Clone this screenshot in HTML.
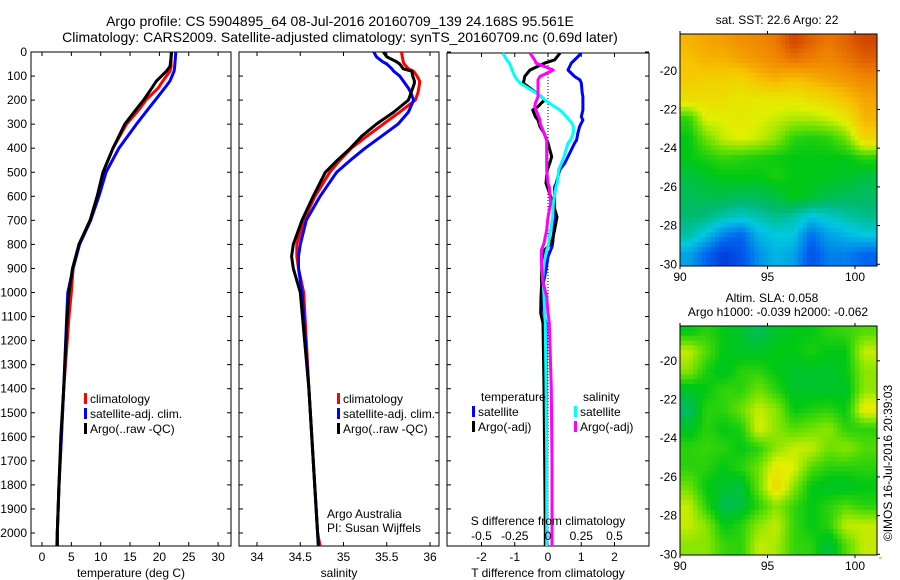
<!DOCTYPE html>
<html><head><meta charset="utf-8"><style>
html,body{margin:0;padding:0;background:#fff}
svg{display:block;font-family:"Liberation Sans",sans-serif}
</style></head><body>
<svg id="fig" width="900" height="580" viewBox="0 0 900 580" xmlns="http://www.w3.org/2000/svg">
<text x="340" y="26" font-size="14" text-anchor="middle">Argo profile: CS 5904895_64 08-Jul-2016 20160709_139 24.168S 95.561E</text>
<text x="340" y="42" font-size="14" text-anchor="middle">Climatology: CARS2009. Satellite-adjusted climatology: synTS_20160709.nc (0.69d later)</text>
<g id="p1"></g>
<g id="p2"></g>
<g id="p3"></g>
<g id="m1"></g>
<g id="m2"></g>
<text x="0" y="0" font-size="12" text-anchor="middle" transform="translate(892,463) rotate(-90)">©IMOS 16-Jul-2016 20:39:03</text>
</svg>
<script>
// ---- profile data ----
const tDepth = [0,60,80,120,150,200,240,300,400,500,600,700,800,900,1000,1100,1400,1600,1800,2000,2054];
const tClim  = [22.0,22.0,21.8,20.6,19.8,17.7,16.5,14.4,12.1,10.4,9.4,8.2,6.3,5.3,5.0,4.6,3.7,3.3,2.9,2.6,2.5];
const tSat   = [22.8,22.6,22.5,21.8,20.9,19.3,18.0,16.1,13.1,10.9,9.7,8.3,6.4,5.3,4.4,4.2,3.7,3.3,2.9,2.6,2.6];
const tArgo  = [22.1,21.8,21.2,19.5,18.7,17.3,16.0,14.1,12.1,10.4,9.4,8.2,6.3,5.2,4.6,4.3,3.7,3.2,2.9,2.6,2.6];
const sDepth = [0,20,40,50,70,80,100,120,130,150,170,200,250,300,350,400,450,500,600,700,800,850,900,1000,1400,2000,2054];
const sClim  = [35.67,35.68,35.69,35.70,35.75,35.81,35.85,35.88,35.88,35.87,35.86,35.83,35.65,35.46,35.27,35.09,34.96,34.84,34.67,34.54,34.46,34.46,34.48,34.54,34.60,34.70,34.73];
const sSat   = [35.35,35.38,35.45,35.50,35.56,35.58,35.65,35.69,35.71,35.75,35.78,35.81,35.75,35.63,35.44,35.25,35.08,34.92,34.73,34.57,34.50,34.48,34.48,34.52,34.60,34.70,34.71];
const sArgo  = [35.46,35.50,35.61,35.65,35.69,35.79,35.80,35.82,35.82,35.80,35.78,35.75,35.58,35.38,35.21,35.08,34.93,34.79,34.65,34.52,34.42,34.40,34.42,34.50,34.60,34.70,34.71];
const dDepth = [5,33,46,75,102,116,129,170,186,200,212,227,241,269,283,296,310,337,366,379,435,463,491,545,561,628,686,740,768,795,810,823,851,878,906,948,962,1018,1086,1127,1400,1700,2000,2054];
const dTsat  = [1.0,0.8,0.7,0.6,0.8,0.96,1.0,1.03,1.05,1.05,1.05,1.05,1.05,1.0,1.05,1.0,0.95,0.9,0.86,0.8,0.6,0.5,0.35,0.25,0.2,0.2,0.2,0.18,0.16,0.14,0.12,0.08,0.0,-0.03,-0.06,-0.12,-0.15,-0.19,-0.12,-0.06,-0.05,-0.05,-0.04,-0.04];
const dTargo = [0.36,0.2,-0.1,-0.54,-0.7,-0.72,-0.75,-0.35,-0.2,-0.1,-0.2,-0.3,-0.46,-0.38,-0.3,-0.27,-0.24,-0.12,-0.04,0.0,0.11,0.05,-0.02,-0.06,-0.02,0.15,0.27,0.2,0.15,0.1,0.0,-0.1,-0.15,-0.18,-0.19,-0.2,-0.19,-0.21,-0.22,-0.15,-0.12,-0.1,-0.08,-0.08];
const dSsat  = [-0.34,-0.31,-0.29,-0.27,-0.25,-0.23,-0.21,-0.09,-0.05,-0.02,0.01,0.05,0.09,0.14,0.16,0.18,0.19,0.19,0.17,0.15,0.12,0.1,0.08,0.07,0.06,0.04,0.035,0.02,0.01,0.005,0.0,-0.01,-0.02,-0.03,-0.035,-0.04,-0.035,-0.03,-0.025,-0.02,-0.015,-0.01,-0.01,-0.01];
const dSargo = [-0.135,-0.1,-0.09,0.04,-0.06,-0.075,-0.075,-0.075,-0.075,-0.085,-0.095,-0.1,-0.09,-0.07,-0.06,-0.06,-0.05,-0.03,-0.01,-0.01,-0.01,-0.01,-0.01,0.0,0.01,0.02,0.0,-0.01,-0.02,-0.03,-0.04,-0.05,-0.05,-0.05,-0.045,-0.04,-0.035,-0.01,0.0,0.01,0.025,0.03,0.03,0.03];
const depthTicks = [0,100,200,300,400,500,600,700,800,900,1000,1100,1200,1300,1400,1500,1600,1700,1800,1900,2000];
const tempTicks = [0,5,10,15,20,25,30];
const salTicks = [34,34.5,35,35.5,36];
const salTickLabels = ["34","34.5","35","35.5","36"];
const tdTicks = [-2,-1,0,1,2];
const sdTicks = [-0.5,-0.25,0,0.25,0.5];
const sdTickLabels = ["-0.5","-0.25","0","0.25","0.5"];
// ---- map data (values on 0..1 colour scale), rows lat -18.5..-29.5, cols lon 90.5..100.5 ----
const sstGrid = [
[.80,.82,.83,.85,.86,.88,.93,.90,.88,.90,.93],
[.78,.80,.80,.82,.84,.86,.88,.87,.86,.88,.90],
[.76,.75,.75,.74,.78,.80,.78,.80,.82,.84,.86],
[.72,.72,.72,.70,.70,.70,.70,.72,.74,.78,.82],
[.55,.68,.68,.70,.68,.66,.64,.64,.66,.70,.80],
[.52,.60,.66,.68,.66,.62,.55,.54,.55,.60,.74],
[.52,.54,.56,.55,.54,.53,.52,.52,.52,.52,.55],
[.48,.50,.52,.52,.52,.54,.52,.52,.51,.50,.48],
[.46,.47,.47,.46,.46,.48,.52,.50,.47,.46,.45],
[.44,.43,.40,.38,.40,.42,.40,.36,.38,.40,.42],
[.40,.35,.28,.25,.34,.36,.36,.26,.32,.34,.36],
[.32,.25,.18,.22,.30,.34,.32,.22,.28,.28,.25]];
const slaGrid = [
[.52,.55,.52,.50,.46,.50,.52,.52,.55,.56,.58],
[.66,.58,.52,.50,.50,.52,.52,.54,.52,.52,.66],
[.62,.54,.50,.55,.55,.52,.50,.50,.50,.52,.62],
[.50,.52,.56,.55,.60,.55,.50,.50,.50,.50,.62],
[.45,.55,.55,.60,.66,.62,.52,.54,.55,.52,.70],
[.50,.55,.52,.54,.68,.62,.58,.60,.62,.55,.55],
[.55,.56,.55,.52,.55,.62,.66,.66,.60,.62,.58],
[.55,.55,.52,.55,.60,.70,.68,.58,.55,.55,.55],
[.60,.52,.50,.48,.60,.74,.62,.52,.50,.50,.52],
[.66,.55,.46,.48,.55,.62,.56,.52,.55,.58,.55],
[.66,.62,.52,.55,.62,.66,.56,.52,.55,.66,.66],
[.62,.62,.56,.55,.66,.64,.56,.55,.48,.58,.66]];
const latTicks = [-20,-22,-24,-26,-28,-30];
const lonTicks = [90,95,100];

const NS="http://www.w3.org/2000/svg";
function mk(parent,tag,attrs,text){const e=document.createElementNS(NS,tag);for(const k in attrs)e.setAttribute(k,attrs[k]);if(text!==undefined)e.textContent=text;parent.appendChild(e);return e;}
const TOP=52, BOT=546;
const yD = d => TOP + d*0.2405;

function panel(g,x0,x1,top,xs,ticks,labels,name){
  const r=mk(g,'rect',{x:x0,y:top,width:x1-x0,height:BOT-top,fill:'none',stroke:'#000','stroke-width':1});
  
  
  ticks.forEach((t,i)=>{
    const x=xs(t);
    mk(g,'line',{x1:x,x2:x,y1:top,y2:top+4,stroke:'#000'});
    mk(g,'line',{x1:x,x2:x,y1:BOT,y2:BOT-4,stroke:'#000'});
    if(labels){const tl=mk(g,'text',{x:x,y:561,'font-size':12,'text-anchor':'middle'},labels[i]);
      
      }
  });
  depthTicks.forEach(d=>{const y=yD(d);
    mk(g,'line',{x1:x0,x2:x0+4,y1:y,y2:y,stroke:'#000'});
    mk(g,'line',{x1:x1,x2:x1-4,y1:y,y2:y,stroke:'#000'});});
}
function line(g,xs,vals,depths,color,name,w){
  const pts=vals.map((v,i)=>xs(v).toFixed(1)+','+yD(depths[i]).toFixed(1)).join(' ');
  const p=mk(g,'polyline',{points:pts,fill:'none',stroke:color,'stroke-width':w||3,'stroke-linejoin':'round'});
  
  
}
function legend(g,x,y,color,label,name){
  mk(g,'rect',{x:x,y:y-10,width:3,height:11,fill:color});
  const t=mk(g,'text',{x:x+6,y:y,'font-size':12},label);
  
  
}
// temperature panel
const p1=document.getElementById('p1');
const xT=t=>42+t*5.87;
panel(p1,31,231,TOP,xT,tempTicks,tempTicks.map(String),'temperature');
depthTicks.forEach(d=>{const t=mk(p1,'text',{x:27,y:yD(d)+4,'font-size':12,'text-anchor':'end'},String(d));
  
  });
line(p1,xT,tClim,tDepth,'#ff0000','temp-climatology-line');
line(p1,xT,tSat,tDepth,'#0000ff','temp-satellite-line');
line(p1,xT,tArgo,tDepth,'#000000','temp-argo-line');
legend(p1,84,403,'#ff0000','climatology','legend-climatology');
legend(p1,84,418,'#0000ff','satellite-adj. clim.','legend-satellite');
legend(p1,84,433,'#000','Argo(..raw -QC)','legend-argo');
mk(p1,'text',{x:131,y:577,'font-size':12,'text-anchor':'middle'},'temperature (deg C)');
// salinity panel
const p2=document.getElementById('p2');
const xS=s=>257+(s-34)*86.5;
panel(p2,239,439,TOP,xS,salTicks,salTickLabels,'salinity');
line(p2,xS,sClim,sDepth,'#ff0000','sal-climatology-line');
line(p2,xS,sSat,sDepth,'#0000ff','sal-satellite-line');
line(p2,xS,sArgo,sDepth,'#000000','sal-argo-line');
legend(p2,337,403,'#ff0000','climatology','legend-climatology');
legend(p2,337,418,'#0000ff','satellite-adj. clim.','legend-satellite');
legend(p2,337,433,'#000','Argo(..raw -QC)','legend-argo');
mk(p2,'text',{x:327,y:518,'font-size':12},'Argo Australia');
mk(p2,'text',{x:327,y:532,'font-size':12},'PI: Susan Wijffels');
mk(p2,'text',{x:339,y:577,'font-size':12,'text-anchor':'middle'},'salinity');
// difference panel
const p3=document.getElementById('p3');
const xDT=d=>548+d*33.25;
const xDS=s=>548+s*4*33.25;
panel(p3,447,649,53,xDT,tdTicks,tdTicks.map(String),'t-difference');
mk(p3,'line',{x1:548,x2:548,y1:53,y2:BOT,stroke:'#000','stroke-dasharray':'1,2'});
line(p3,xDT,dTsat,dDepth,'#0000ff','t-diff-satellite-line');
line(p3,xDT,dTargo,dDepth,'#000000','t-diff-argo-line');
line(p3,xDS,dSsat,dDepth,'#00ffff','s-diff-satellite-line');
line(p3,xDS,dSargo,dDepth,'#ff00ff','s-diff-argo-line');
mk(p3,'text',{x:481,y:401,'font-size':12},'temperature');
mk(p3,'text',{x:583,y:401,'font-size':12},'salinity');
legend(p3,472,416,'#0000ff','satellite','legend-t-satellite');
legend(p3,472,431,'#000','Argo(-adj)','legend-t-argo');
legend(p3,574,416,'#00ffff','satellite','legend-s-satellite');
legend(p3,574,431,'#ff00ff','Argo(-adj)','legend-s-argo');
mk(p3,'text',{x:548,y:525,'font-size':12,'text-anchor':'middle'},'S difference from climatology');
sdTicks.forEach((s,i)=>{const t=mk(p3,'text',{x:xDS(s),y:540,'font-size':12,'text-anchor':'middle'},sdTickLabels[i]);
  
  });
mk(p3,'text',{x:548,y:577,'font-size':12,'text-anchor':'middle'},'T difference from climatology');

// maps
const stops=[[0.0,[0,0,140]],[0.12,[0,30,200]],[0.25,[0,100,240]],[0.36,[0,200,225]],[0.44,[0,185,110]],[0.52,[0,200,20]],[0.6,[110,225,0]],[0.68,[225,240,0]],[0.78,[248,195,0]],[0.87,[240,130,0]],[0.95,[200,50,0]],[1.0,[160,0,0]]];
function cmap(v){for(let i=1;i<stops.length;i++){if(v<=stops[i][0]){const a=stops[i-1],b=stops[i],f=(v-a[0])/(b[0]-a[0]);
  return 'rgb('+a[1].map((c,k)=>Math.round(c+(b[1][k]-c)*f)).join(',')+')';}}return 'rgb(160,0,0)';}
function map(g,grid,x0,x1,y0,y1,latTop,name){
  const lonMin=90,lonMax=90+(x1-x0)/17.5, latBot=latTop-(y1-y0)/19.35;
  const xL=lon=>x0+(lon-lonMin)*17.5, yL=lat=>y0+(latTop-lat)*19.35;
  const nr=grid.length,nc=grid[0].length;
  const val=(lat,lon)=>{let r=(-18.5-lat),c=(lon-90.5);r=Math.max(0,Math.min(nr-1,r));c=Math.max(0,Math.min(nc-1,c));
    const r0=Math.min(nr-2,Math.floor(r)),c0=Math.min(nc-2,Math.floor(c)),fr=r-r0,fc=c-c0;
    return grid[r0][c0]*(1-fr)*(1-fc)+grid[r0][c0+1]*(1-fr)*fc+grid[r0+1][c0]*fr*(1-fc)+grid[r0+1][c0+1]*fr*fc;};
  const step=0.25;
  for(let lat=latTop;lat>latBot;lat-=step){for(let lon=lonMin;lon<lonMax;lon+=step){
    const cell=mk(g,'rect',{x:xL(lon).toFixed(2),y:yL(lat).toFixed(2),width:(step*17.5+0.6).toFixed(2),height:(step*19.35+0.6).toFixed(2),fill:cmap(val(lat-step/2,lon+step/2))});
    
    }}
  // cover overflow
  mk(g,'rect',{x:x1,y:y0-2,width:20,height:y1-y0+4,fill:'#fff'});
  mk(g,'rect',{x:x0-2,y:y1,width:x1-x0+4,height:6,fill:'#fff'});
  const fr=mk(g,'rect',{x:x0,y:y0,width:x1-x0,height:y1-y0,fill:'none',stroke:'#000'});
  
  
  latTicks.forEach(l=>{const y=yL(l);
    mk(g,'line',{x1:x1,x2:x1+3,y1:y,y2:y,stroke:'#000'});
    const t=mk(g,'text',{x:677,y:y+4,'font-size':12,'text-anchor':'end'},String(l));
    
    });
  lonTicks.forEach(l=>{const x=xL(l);
    mk(g,'line',{x1:x,x2:x,y1:y1,y2:y1+3,stroke:'#000'});
    mk(g,'line',{x1:x,x2:x,y1:y0,y2:y0-3,stroke:'#000'});
    const t=mk(g,'text',{x:x,y:y1+15,'font-size':12,'text-anchor':'middle'},String(l));
    
    });
}
const m1=document.getElementById('m1'), m2=document.getElementById('m2');
map(m1,sstGrid,680,877,34,266,-18.1,'sst-map');
map(m2,slaGrid,680,877,326,555,-18.2,'sla-map');
mk(m1,'text',{x:777,y:24,'font-size':12,'text-anchor':'middle'},'sat. SST: 22.6 Argo: 22');
mk(m2,'text',{x:772,y:302,'font-size':12,'text-anchor':'middle'},'Altim. SLA: 0.058');
mk(m2,'text',{x:778,y:316,'font-size':12,'text-anchor':'middle'},'Argo h1000: -0.039 h2000: -0.062');
</script>
</body></html>
